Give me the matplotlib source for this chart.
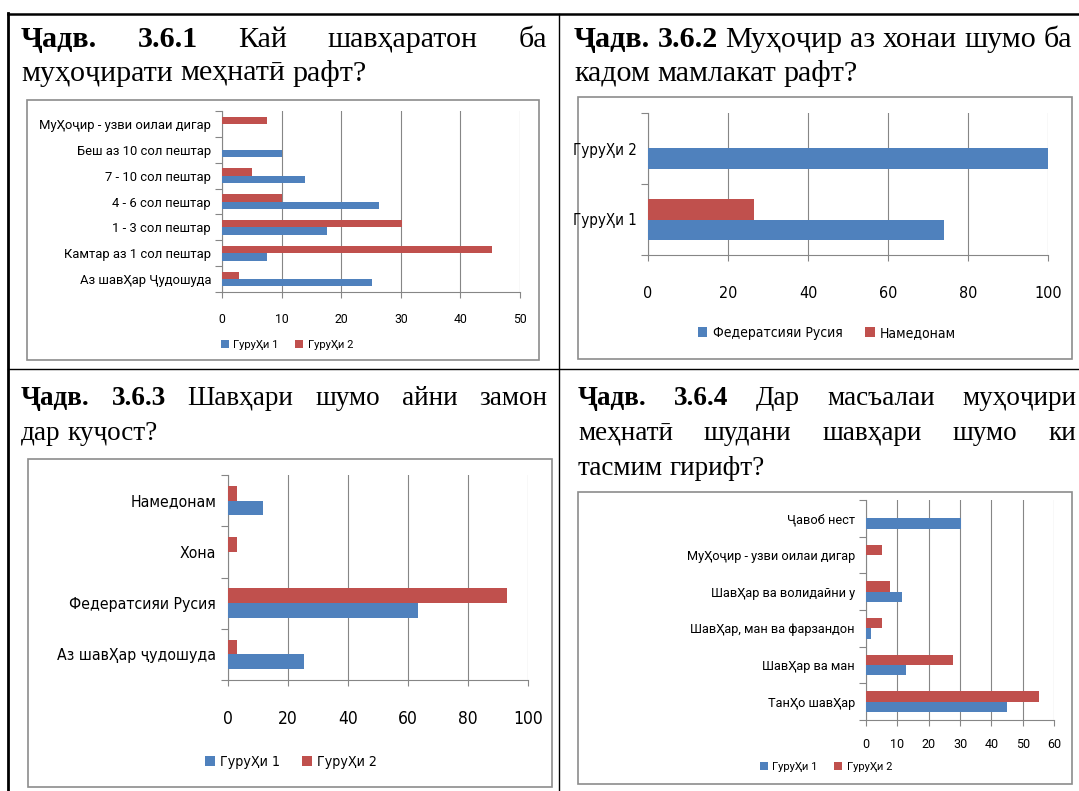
import matplotlib
matplotlib.use('Agg')
import matplotlib.pyplot as plt
from matplotlib.lines import Line2D
from matplotlib.patches import Rectangle
from matplotlib import font_manager as fm
import numpy as np

# ---------------- data ----------------
series_names = ['ГуруҲи 1', 'ГуруҲи 2']

c1_categories = ['Аз шавҲар Ҷудошуда', 'Камтар аз 1 сол пештар', '1 - 3 сол пештар',
                 '4 - 6 сол пештар', '7 - 10 сол пештар', 'Беш аз 10 сол пештар',
                 'МуҲоҷир - узви оилаи дигар']
c1_group1 = [25.2, 7.6, 17.7, 26.4, 14.0, 10.1, 0]
c1_group2 = [2.8, 45.3, 30.2, 10.1, 5.0, 0, 7.6]
c1_xticks = [0, 10, 20, 30, 40, 50]

c2_categories = ['ГуруҲи 1', 'ГуруҲи 2']
c2_series = ['Федератсияи Русия', 'Намедонам']
c2_russia = [74.1, 100]
c2_unknown = [26.6, 0]
c2_xticks = [0, 20, 40, 60, 80, 100]

c3_categories = ['Аз шавҲар ҷудошуда', 'Федератсияи Русия', 'Хона', 'Намедонам']
c3_group1 = [25.4, 63.4, 0, 11.8]
c3_group2 = [2.9, 93.1, 2.9, 2.9]
c3_xticks = [0, 20, 40, 60, 80, 100]

c4_categories = ['ТанҲо шавҲар', 'ШавҲар ва ман', 'ШавҲар, ман ва фарзандон',
                 'ШавҲар ва волидайни у', 'МуҲоҷир - узви оилаи дигар', 'Ҷавоб нест']
c4_group1 = [45.0, 12.8, 1.6, 11.5, 0, 30.2]
c4_group2 = [55.2, 27.8, 5.0, 7.7, 5.0, 0]
c4_xticks = [0, 10, 20, 30, 40, 50, 60]

# ---------------- style ----------------
BLUE = '#4F81BD'
RED = '#C0504D'
GRID = '#868686'
BOXC = '#8c8c8c'
W, H = 1079, 791

SANS = fm.FontProperties(family=['Roboto', 'DejaVu Sans'])


def find_condensed():
    prefs = ['DejaVuSansCondensed.ttf', 'NotoSans-Condensed.ttf', 'NotoSansCondensed-Regular.ttf',
             'OpenSans-CondensedRegular.ttf', 'OpenSans_Condensed-Regular.ttf',
             'Roboto-Condensed.ttf', 'RobotoCondensed-Regular.ttf',
             'LiberationSansNarrow-Regular.ttf']
    files = {f.fname.split('/')[-1]: f.fname for f in fm.fontManager.ttflist}
    for p in prefs:
        if p in files:
            return fm.FontProperties(fname=files[p])
    for name, path in files.items():
        low = name.lower()
        if ('condensed' in low or 'narrow' in low) and 'bold' not in low and 'italic' not in low \
                and 'light' not in low and 'semi' not in low and 'extra' not in low and 'mono' not in low:
            return fm.FontProperties(fname=path)
    return None


COND = find_condensed()
if COND is None:
    NARROW = SANS
    nscale = 0.95
else:
    NARROW = COND
    nscale = 1.0

SERIF = ['Liberation Serif', 'DejaVu Serif']

fig = plt.figure(figsize=(W / 100, H / 100), dpi=100)
bg = fig.add_axes([0, 0, 1, 1])
bg.set_xlim(0, W)
bg.set_ylim(H, 0)
bg.axis('off')


def px_axes(x0, y0, x1, y1):
    return fig.add_axes([x0 / W, 1 - y1 / H, (x1 - x0) / W, (y1 - y0) / H])


# table lines
bg.add_line(Line2D([8, W], [14, 14], color='black', lw=1.8))
bg.add_line(Line2D([8, 8], [13, H], color='black', lw=2.0))
bg.add_line(Line2D([559, 559], [14, H], color='black', lw=1.0))
bg.add_line(Line2D([8, W], [369, 369], color='black', lw=1.0))

# chart boxes
for (x0, y0, x1, y1) in [(27, 100, 539, 360), (578, 97, 1072, 359),
                         (28, 459, 552, 787), (578, 492, 1072, 784)]:
    bg.add_patch(Rectangle((x0, y0), x1 - x0, y1 - y0, fill=False, ec=BOXC, lw=1.2))

# header text
renderer = fig.canvas.get_renderer()


def text_w(s, bold, size):
    t = bg.text(0, 0, s, fontsize=size, fontweight='bold' if bold else 'normal', family=SERIF)
    w = t.get_window_extent(renderer).width
    t.remove()
    return w


def line(words, x0, y, size, x1=None):
    widths = [text_w(w, b, size) for w, b in words]
    if x1 is None or len(words) < 2:
        gap = text_w('a a', False, size) - text_w('aa', False, size)
    else:
        gap = (x1 - x0 - sum(widths)) / (len(words) - 1)
    x = x0
    for (w, b), wd in zip(words, widths):
        bg.text(x, y, w, fontsize=size, fontweight='bold' if b else 'normal',
                family=SERIF, ha='left', va='baseline')
        x += wd + gap


def words(s, bold=False):
    return [(w, bold) for w in s.split()]


TOP = 21.6
BOT = 19.5
line(words('Ҷадв. 3.6.1', True) + words('Кай шавҳаратон ба'), 21, 47, TOP, 547)
line(words('муҳоҷирати меҳнатӣ рафт?'), 21, 81, TOP)
line(words('Ҷадв. 3.6.2', True) + words('Муҳоҷир аз хонаи шумо ба'), 574, 47, TOP)
line(words('кадом мамлакат рафт?'), 574, 81, TOP)
line(words('Ҷадв. 3.6.3', True) + words('Шавҳари шумо айни замон'), 21, 405, BOT, 547)
line(words('дар куҷост?'), 21, 440, BOT)
line(words('Ҷадв. 3.6.4', True) + words('Дар масъалаи муҳоҷири'), 578, 405, BOT, 1076)
line(words('меҳнатӣ шудани шавҳари шумо ки'), 578, 440, BOT, 1076)
line(words('тасмим гирифт?'), 578, 475, BOT)


def bar_chart(rect, cats, s1, s2, names, xticks, font, cat_size, tick_size, leg_size,
              cat_pad, tick_pad, leg_xy, colsp):
    ax = px_axes(*rect)
    n = len(cats)
    y = np.arange(n)
    h = 1 / 3.5
    ax.barh(y - h / 2, s1, height=h, color=BLUE, label=names[0], zorder=3)
    ax.barh(y + h / 2, s2, height=h, color=RED, label=names[1], zorder=3)
    ax.set_xlim(xticks[0], xticks[-1])
    ax.set_ylim(-0.5, n - 0.5)
    ax.set_xticks(xticks)
    ax.set_xticklabels([str(v) for v in xticks], fontproperties=font, fontsize=tick_size)
    ax.set_yticks(np.arange(n + 1) - 0.5)
    ax.set_yticklabels([])
    ax.set_yticks(y, minor=True)
    ax.set_yticklabels(cats, minor=True, fontproperties=font, fontsize=cat_size)
    ax.tick_params(axis='y', which='major', direction='out', length=5, color=GRID, width=0.8)
    ax.tick_params(axis='y', which='minor', length=0, pad=cat_pad * 0.72)
    ax.tick_params(axis='x', direction='out', length=4, color=GRID, width=0.8,
                   pad=tick_pad * 0.72)
    ax.grid(axis='x', color=GRID, lw=0.8)
    ax.set_axisbelow(True)
    for s in ['top', 'right']:
        ax.spines[s].set_visible(False)
    for s in ['left', 'bottom']:
        ax.spines[s].set_color(GRID)
        ax.spines[s].set_linewidth(0.8)
    ax.patch.set_alpha(0)
    prop = font.copy()
    prop.set_size(leg_size)
    ax.legend(loc='center', bbox_to_anchor=leg_xy, bbox_transform=bg.transData, ncol=2,
              frameon=False, prop=prop, handlelength=0.7,
              handleheight=0.7, handletextpad=0.4, columnspacing=colsp, borderpad=0)
    return ax


bar_chart((222, 111, 520, 292), c1_categories, c1_group1, c1_group2, series_names, c1_xticks,
          SANS, 9.4, 8.8, 8, 11, 15, (287, 345), 1.5)
bar_chart((648, 113, 1048, 255), c2_categories, c2_russia, c2_unknown, c2_series, c2_xticks,
          NARROW, 10.8 * nscale, 11.5 * nscale, 10 * nscale, 11, 25, (827, 333), 1.6)
bar_chart((228, 475, 528, 680), c3_categories, c3_group1, c3_group2, series_names, c3_xticks,
          NARROW, 11.3 * nscale, 12.5 * nscale, 10.2 * nscale, 12, 24, (291, 762), 1.5)
bar_chart((866, 500, 1054, 720), c4_categories, c4_group1, c4_group2, series_names, c4_xticks,
          SANS, 9.2, 9, 8, 11, 12, (826, 767), 1.5)

fig.savefig('out.png', dpi=100)
